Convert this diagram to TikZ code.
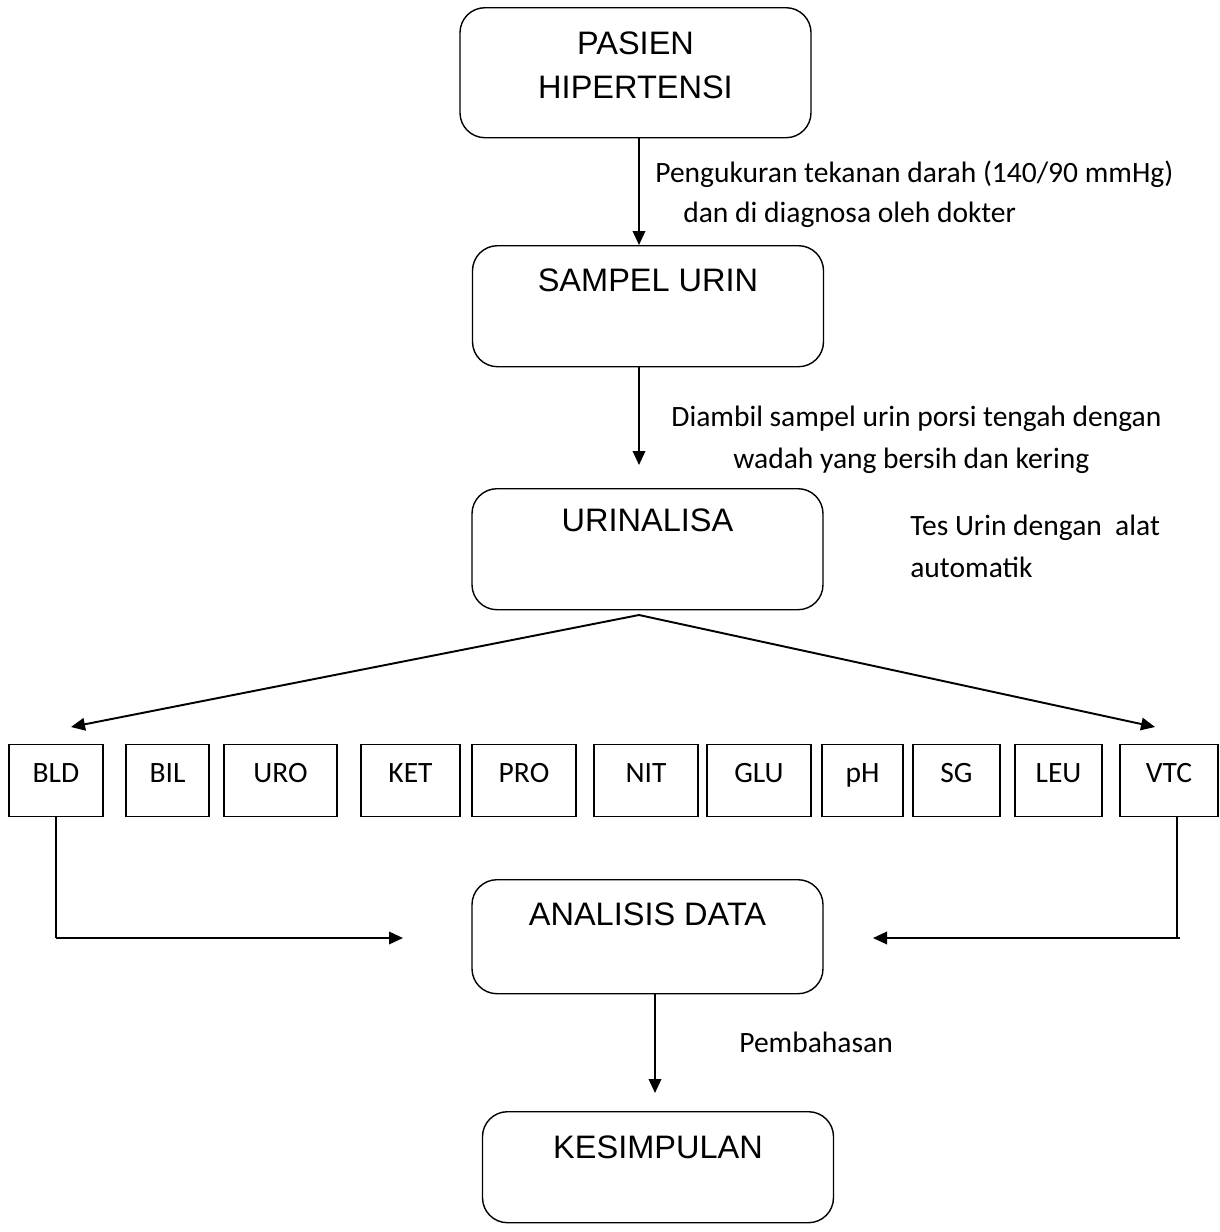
\documentclass[tikz,border=0pt]{standalone}
\usepackage{fontspec}
\setmainfont{Carlito}
\newfontfamily\arialfont{Liberation Sans}
\usepackage{tikz}
\usetikzlibrary{arrows.meta}

\tikzset{
  stage/.style={draw, rounded corners=5mm, line width=0.8pt, inner sep=0pt,
    minimum width=70.2mm, anchor=north, font=\arialfont\fontsize{18.5}{25}\selectfont},
  param/.style={draw, line width=0.7pt, inner sep=0pt, anchor=north,
    text height=7.6mm, text depth=6.8mm, font=\fontsize{16.8}{20}\selectfont},
  note/.style={anchor=base west, inner sep=0pt, font=\fontsize{16.8}{20}\selectfont},
  arr/.style={line width=1.1pt, -{Triangle[length=2.8mm,width=2.5mm]}}
}

\begin{document}
\begin{tikzpicture}[x=0.2mm, y=-0.2mm]
        \useasboundingbox (0,0) rectangle (1219,1232);

        % main stages
        \node[stage, text height=9.4mm, text depth=16.6mm] (pasien) at (635.5,7)
            {\begin{tabular}[t]{@{}c@{}}PASIEN\\HIPERTENSI\end{tabular}};
        \node[stage, text height=9.2mm, text depth=15mm] (sampel) at (648,245) {SAMPEL URIN};
        \node[stage, text height=8.6mm, text depth=15.6mm] (urinalisa) at (647.5,488) {URINALISA};
        \node[stage, text height=9.2mm, text depth=13.6mm] (analisis) at (647.5,879) {ANALISIS DATA};
        \node[stage, text height=9.4mm, text depth=12.8mm] (kesimpulan) at (658,1111) {KESIMPULAN};

        % urine parameters
        \node[param, minimum width=18.8mm] (bld) at (56,744) {BLD};
        \node[param, minimum width=16.6mm] (bil) at (167.5,744) {BIL};
        \node[param, minimum width=22.6mm] (uro) at (280.5,744) {URO};
        \node[param, minimum width=19.8mm] (ket) at (410.5,744) {KET};
        \node[param, minimum width=20.8mm] (pro) at (524,744) {PRO};
        \node[param, minimum width=20.8mm] (nit) at (646,744) {NIT};
        \node[param, minimum width=20.8mm] (glu) at (759,744) {GLU};
        \node[param, minimum width=16.2mm] (ph) at (862.5,744) {pH};
        \node[param, minimum width=17.4mm] (sg) at (956.5,744) {SG};
        \node[param, minimum width=17.4mm] (leu) at (1058.5,744) {LEU};
        \node[param, minimum width=19.6mm] (vtc) at (1169,744) {VTC};

        % notes
        \node[note] (ukur) at (655,182) {Pengukuran tekanan darah (140/90 mmHg)};
        \node[note] (diagnosa) at (683,222) {dan di diagnosa oleh dokter};
        \node[note] (ambil) at (671,426) {Diambil sampel urin porsi tengah dengan};
        \node[note] (wadah) at (733,468) {wadah yang bersih dan kering};
        \node[note] (tes) at (910,535) {Tes Urin dengan\ \ alat};
        \node[note] (otomatik) at (910,577) {automatik};
        \node[note] (bahas) at (739,1052) {Pembahasan};

        \coordinate (tip1) at (639,465);
        \coordinate (split) at (639,615);
        \coordinate (tipL) at (71,727);
        \coordinate (tipR) at (1155,727);
        \coordinate (tipA) at (403,938);
        \coordinate (tipB) at (873,938);
        \coordinate (tip2) at (655,1093);

        \draw[arr] (pasien.south -| tip1) -- (sampel.north -| tip1);
        \draw[arr] (sampel.south -| tip1) -- (tip1);
        \draw[arr] (split) -- (tipL);
        \draw[arr] (split) -- (tipR);
        \draw[line width=0.7pt] (bld.south) -- (bld.south |- tipA);
        \draw[arr] (bld.south |- tipA) -- (tipA);
        \draw[line width=0.7pt] ([xshift=1.6mm]vtc.south) -- ([xshift=1.6mm]vtc.south |- tipB);
        \draw[arr] ([xshift=2.2mm]vtc.south |- tipB) -- (tipB);
        \draw[arr] (analisis.south -| tip2) -- (tip2);
\end{tikzpicture}
\end{document}
